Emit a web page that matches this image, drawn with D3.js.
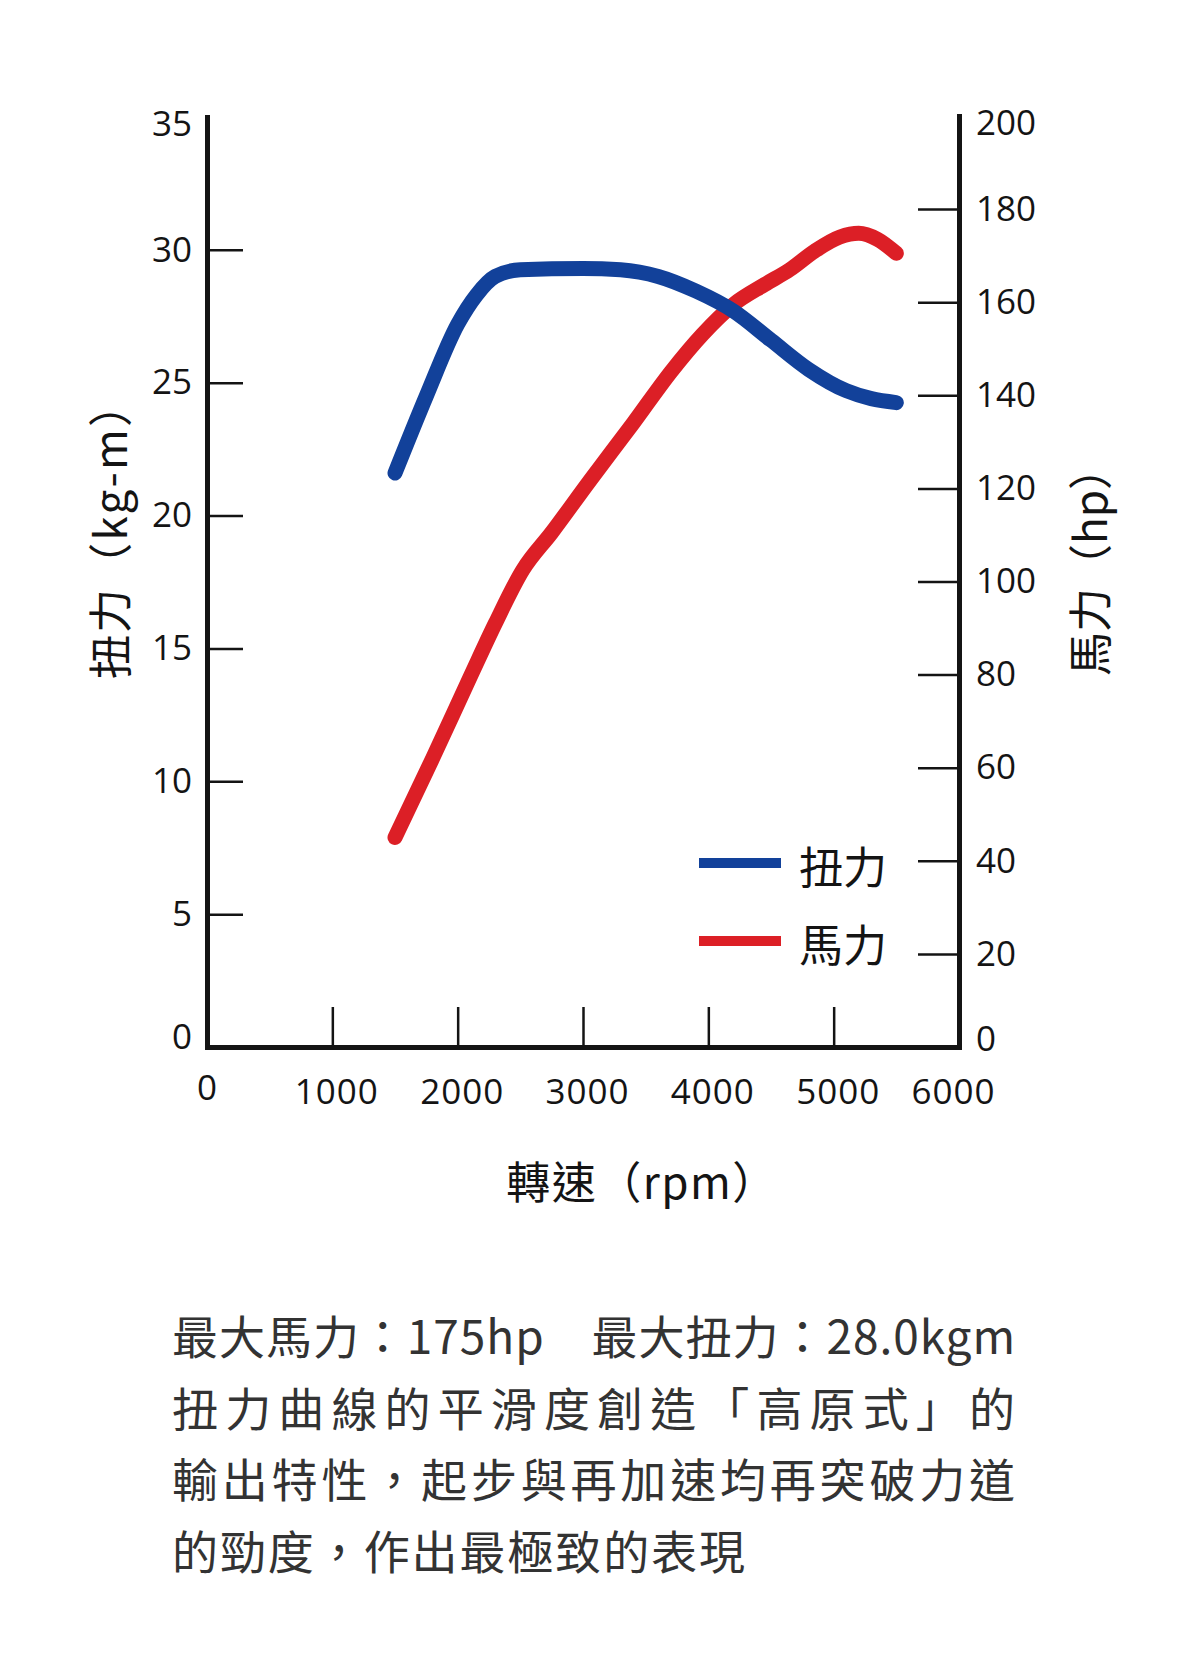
<!DOCTYPE html>
<html>
<head>
<meta charset="utf-8">
<script src="https://cdn.jsdelivr.net/npm/d3@7"></script>
<style>
  html, body { margin: 0; padding: 0; background: #ffffff; }
  svg { display: block; }
</style>
</head>
<body>
<svg id="chart" width="1200" height="1661"></svg>
<script>
// ---- data ----
const rpmTicks = [0, 1000, 2000, 3000, 4000, 5000, 6000];
const torqueTicks = [0, 5, 10, 15, 20, 25, 30, 35];
const hpTicks = [0, 20, 40, 60, 80, 100, 120, 140, 160, 180, 200];

const torqueRpm    = [1500, 1750, 2000, 2150, 2300, 2500, 3000, 3300, 3600, 3900, 4200, 4500, 4800, 5100, 5300, 5500];
const torqueValues = [21.6, 24.5, 27.2, 28.3, 29.0, 29.25, 29.3, 29.25, 29.0, 28.45, 27.7, 26.6, 25.5, 24.7, 24.4, 24.25];

const powerRpm    = [1500, 1800, 2100, 2300, 2520, 2750, 3050, 3400, 3700, 3950, 4200, 4450, 4650, 4850, 5050, 5200, 5350, 5500];
const powerValues = [45, 62, 79.5, 91, 102.5, 110.5, 121.5, 134, 145, 153, 159.5, 163.8, 167, 171, 174, 174.8, 173.5, 170.5];

const seriesNames = ["扭力", "馬力"];
const leftTitle = "扭力（kg-m）";
const rightTitle = "馬力（hp）";
const xTitle = "轉速（rpm）";
const noteLines = [
  "最大馬力：175hp　最大扭力：28.0kgm",
  "扭力曲線的平滑度創造「高原式」的",
  "輸出特性，起步與再加速均再突破力道",
  "的勁度，作出最極致的表現"
];

// ---- layout ----
const svg = d3.select("#chart");
const cjk = "'Noto Sans CJK TC', 'Noto Sans CJK SC', sans-serif";
const num = "'Open Sans', 'Noto Sans', sans-serif";
const blue = "#12419a";
const red = "#dc1f26";
const ink = "#141414";

const x = d3.scaleLinear().domain([0, 6000]).range([207, 959]);
const yT = d3.scaleLinear().domain([0, 35]).range([1047, 117]);
const yH = d3.scaleLinear().domain([0, 200]).range([1047, 116]);

function styleAxis(g, ends) {
  g.select(".domain").attr("stroke", ink).attr("stroke-width", 5).attr("stroke-linecap", "square");
  g.selectAll(".tick line").attr("stroke", ink).attr("stroke-width", 2.5);
  g.selectAll(".tick text").attr("fill", ink).attr("font-family", num).attr("font-size", 35);
  g.selectAll(".tick").filter(d => ends.includes(d)).select("line").remove();
}

// left axis (torque)
const gL = svg.append("g").attr("transform", "translate(207,0)")
  .call(d3.axisLeft(yT).tickValues(torqueTicks).tickSizeInner(-36).tickSizeOuter(0).tickPadding(15).tickFormat(d3.format("d")));
styleAxis(gL, [0, 35]);
gL.selectAll(".tick text").attr("dy", d => d === 35 ? "0.52em" : d === 0 ? "0.05em" : "0.32em");

// right axis (hp)
const gR = svg.append("g").attr("transform", "translate(959,0)")
  .call(d3.axisRight(yH).tickValues(hpTicks).tickSizeInner(-41).tickSizeOuter(0).tickPadding(17).tickFormat(d3.format("d")));
styleAxis(gR, [0, 200]);
gR.selectAll(".tick text").attr("dy", d => d === 200 ? "0.52em" : d === 0 ? "0.1em" : "0.32em");

// bottom axis (rpm)
const gB = svg.append("g").attr("transform", "translate(0,1047)")
  .call(d3.axisBottom(x).tickValues(rpmTicks).tickSizeInner(-40).tickSizeOuter(0).tickPadding(32).tickFormat(d3.format("d")));
styleAxis(gB, [0, 6000]);
gB.selectAll(".tick text")
  .attr("letter-spacing", 1)
  .attr("dx", d => d === 0 ? 0 : d === 6000 ? -6 : 4)
  .attr("dy", d => d === 0 ? "0.6em" : "0.71em");

// curves
const lineT = d3.line().x(d => x(d[0])).y(d => yT(d[1])).curve(d3.curveMonotoneX);
const lineH = d3.line().x(d => x(d[0])).y(d => yH(d[1])).curve(d3.curveMonotoneX);

svg.append("path")
  .datum(powerRpm.map((r, i) => [r, powerValues[i]]))
  .attr("d", lineH).attr("fill", "none").attr("stroke", red)
  .attr("stroke-width", 15).attr("stroke-linecap", "round").attr("stroke-linejoin", "round");

svg.append("path")
  .datum(torqueRpm.map((r, i) => [r, torqueValues[i]]))
  .attr("d", lineT).attr("fill", "none").attr("stroke", blue)
  .attr("stroke-width", 15).attr("stroke-linecap", "round").attr("stroke-linejoin", "round");

// legend
const legend = svg.append("g");
const legY = [863, 941];
const legCol = [blue, red];
seriesNames.forEach((name, i) => {
  legend.append("line").attr("x1", 699).attr("x2", 781).attr("y1", legY[i]).attr("y2", legY[i])
    .attr("stroke", legCol[i]).attr("stroke-width", 10);
  legend.append("text").attr("x", 799).attr("y", legY[i] + 2)
    .attr("dominant-baseline", "central")
    .attr("font-family", cjk).attr("font-size", 44).attr("fill", ink).text(name);
});

// axis titles
svg.append("text").attr("transform", "translate(108,530) rotate(-90)")
  .attr("text-anchor", "middle").attr("dominant-baseline", "central")
  .attr("font-family", cjk).attr("font-size", 44).attr("letter-spacing", 2.2).attr("fill", ink).text(leftTitle);
svg.append("text").attr("transform", "translate(1088,561) rotate(-90)")
  .attr("text-anchor", "middle").attr("dominant-baseline", "central")
  .attr("font-family", cjk).attr("font-size", 44).attr("fill", ink).text(rightTitle);
svg.append("text").attr("x", 642).attr("y", 1180)
  .attr("text-anchor", "middle").attr("dominant-baseline", "central")
  .attr("font-family", cjk).attr("font-size", 44).attr("letter-spacing", 1.5).attr("fill", ink).text(xTitle);

// note paragraph
const noteY = [1334, 1406, 1477, 1549];
const noteLen = [843, 843, 843, 573];
noteLines.forEach((t, i) => {
  svg.append("text").attr("x", 172).attr("y", noteY[i])
    .attr("dominant-baseline", "central")
    .attr("font-family", cjk).attr("font-size", 46).attr("fill", "#333333")
    .attr("textLength", noteLen[i]).attr("lengthAdjust", "spacing")
    .text(t);
});
</script>
</body>
</html>
